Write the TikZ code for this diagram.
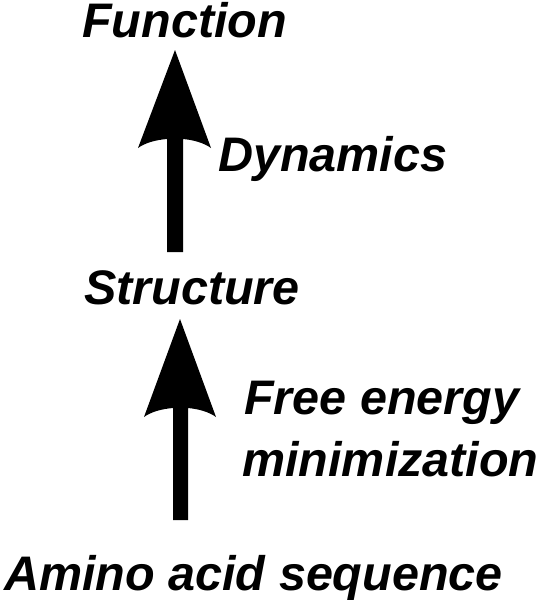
\documentclass[tikz,border=0pt]{standalone}
\usepackage{fontspec}
\setmainfont{Liberation Sans}
\begin{document}
\begin{tikzpicture}[x=1pt,y=-1pt,
  lbl/.style={anchor=base west,inner sep=0pt,text height=0.74em,text depth=0.21em,font=\fontsize{48.5}{52}\selectfont\bfseries\itshape}]
\useasboundingbox (0,0) rectangle (550,600);
\fill[white] (0,0) rectangle (550,600);
\node[lbl] (func) at (82,37) {Function};
\node[lbl] (dyn) at (218,171) {Dynamics};
\node[lbl] (struct) at (84,304) {Structure};
\node[lbl] (free) at (244,414) {Free energy};
\node[lbl] (mini) at (242,476) {minimization};
\node[lbl] (amino) at (4,590) {Amino acid sequence};
\coordinate (a1) at (175,50);
\coordinate (a2) at (180,319);
\fill (167,252) -- (167,139) .. controls (155,140) and (145,143) .. (138,148) -- (a1) -- (211,148) .. controls (204,143) and (194,140) .. (183,139) -- (183,252) -- cycle;
\fill (173,520) -- (173,408) .. controls (161,409) and (151,412) .. (144,417) -- (a2) -- (216,417) .. controls (209,412) and (199,409) .. (188,408) -- (188,520) -- cycle;
\end{tikzpicture}
\end{document}
